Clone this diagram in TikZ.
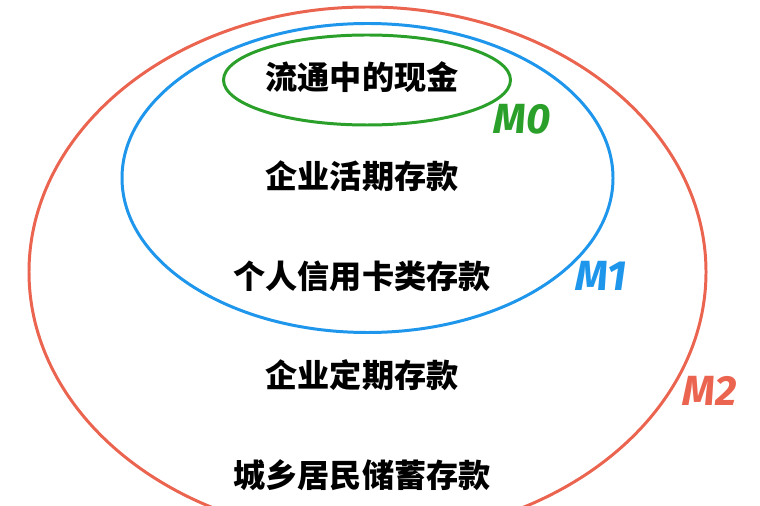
\documentclass[tikz,border=0pt]{standalone}
\usepackage{fontspec}
\usepackage{xcolor}
\usepackage{tikz}
\usetikzlibrary{positioning}
\newfontfamily\cjk{Noto Sans CJK SC}
\newfontfamily\mlabel{Fira Sans}
\definecolor{mred}{HTML}{EB6450}
\definecolor{mblue}{HTML}{1E96EB}
\definecolor{mgreen}{HTML}{2AA02A}

\begin{document}
\begin{tikzpicture}[
  x=0.02cm, y=-0.02cm,
  on grid, node distance=1.99cm,
  item/.style={inner sep=0pt, font=\cjk\bfseries\fontsize{18.3}{20}\selectfont},
  ring/.style={line width=1.7pt},
  level/.style={inner sep=0pt, font=\mlabel\bfseries\itshape\fontsize{24}{26}\selectfont}
]
  \useasboundingbox (0,0) rectangle (760,506);
  \clip (0,0) rectangle (760,506);
  \fill[white] (0,0) rectangle (760,506);
  % money supply rings
  \draw[ring, mred] (367.5,272) ellipse [x radius=338.5, y radius=265];
  \draw[ring, mblue] (367.5,178) ellipse [x radius=245.5, y radius=154.5];
  \draw[ring, mgreen] (367,80) ellipse [x radius=143.5, y radius=45];
  % contents
  \node[item] (cash) at (362,77) {流通中的现金};
  \node[item, below=of cash] (demand) {企业活期存款};
  \node[item, below=of demand] (card) {个人信用卡类存款};
  \node[item, below=of card] (time) {企业定期存款};
  \node[item, below=of time] (savings) {城乡居民储蓄存款};
  % levels
  \node[level, text=mgreen] (m0) at (522,119) {M0};
  \node[level, text=mblue] (m1) at (601,276) {M1};
  \node[level, text=mred] (m2) at (710,391) {M2};
\end{tikzpicture}
\end{document}
